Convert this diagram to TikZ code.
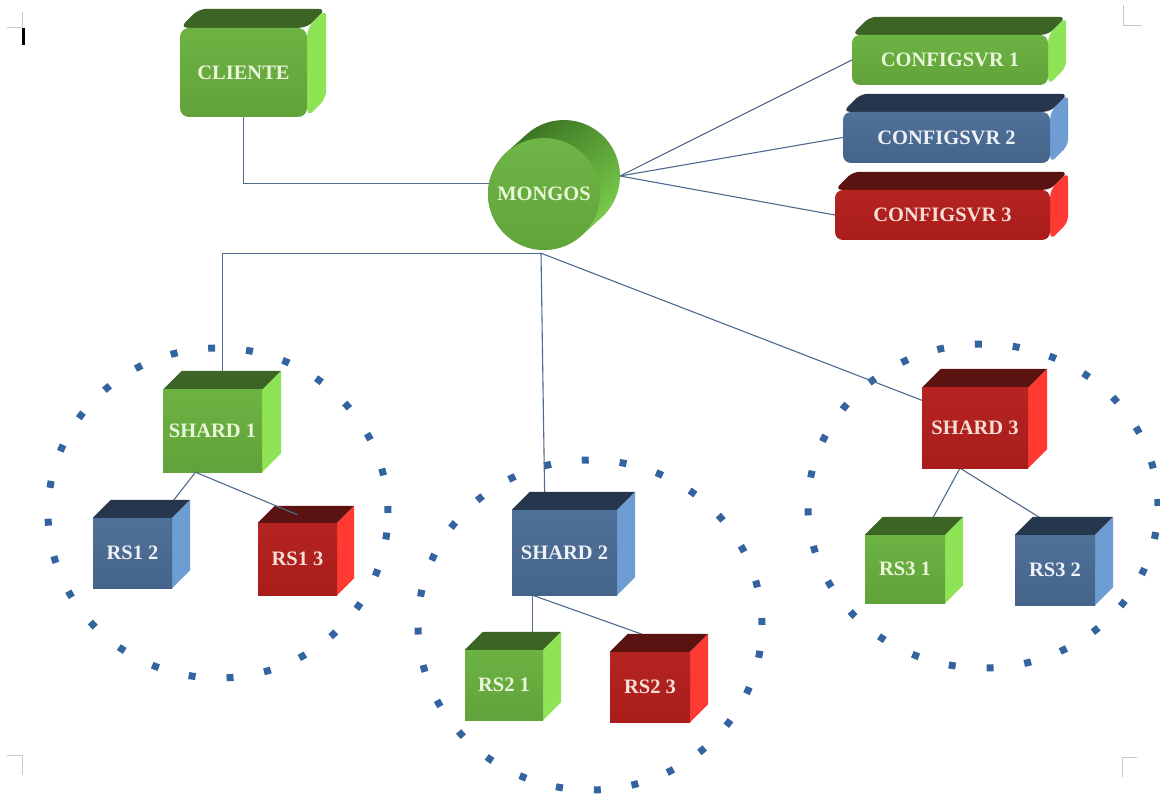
\documentclass[tikz,border=0pt]{standalone}
\usepackage{fontspec}
\setmainfont{Liberation Serif}
\usetikzlibrary{calc}

% palette
\definecolor{grFt}{HTML}{6DB343}\definecolor{grFb}{HTML}{61A23A}
\definecolor{grT}{HTML}{3B6425}\definecolor{grS}{HTML}{8FE455}\definecolor{grTx}{HTML}{E9F6D8}
\definecolor{blFt}{HTML}{4F7099}\definecolor{blFb}{HTML}{45648A}
\definecolor{blT}{HTML}{26374D}\definecolor{blS}{HTML}{6E9DD4}\definecolor{blTx}{HTML}{EEF2F7}
\definecolor{rdFt}{HTML}{B52421}\definecolor{rdFb}{HTML}{A81D1B}
\definecolor{rdT}{HTML}{5B1311}\definecolor{rdS}{HTML}{FF3A33}\definecolor{rdTx}{HTML}{F7DED5}
\definecolor{cyTop}{HTML}{356B1F}\definecolor{cyBot}{HTML}{82D650}
\definecolor{cyFt}{HTML}{6FB546}\definecolor{cyFb}{HTML}{62A43A}
\definecolor{wirec}{HTML}{4E6A8E}\definecolor{dotc}{HTML}{3464A0}\definecolor{cropc}{HTML}{C8C8C8}

\pgfdeclarelayer{paper}
\pgfdeclarelayer{wires}
\pgfdeclarelayer{sides}
\pgfsetlayers{paper,wires,sides,main}

% top and right faces of a box whose front face is node #2, depth #3
\newcommand\cubefaces[5][]{%
  \begin{pgfonlayer}{sides}
    \fill[#4,#1] (#2.north west) -- ++(#3,-#3) -- ([shift={(#3,-#3)}]#2.north east) -- (#2.north east) -- cycle;
    \fill[#5,#1] (#2.north east) -- ++(#3,-#3) -- ([shift={(#3,-#3)}]#2.south east) -- (#2.south east) -- cycle;
  \end{pgfonlayer}}

\begin{document}
\begin{tikzpicture}[x=1pt,y=-1pt,
  front/.style={rectangle, inner sep=0pt, font=\bfseries\fontsize{20.5}{24}\selectfont},
  wh/.style 2 args={minimum width=#1pt, minimum height=#2pt},
  gface/.style={front, top color=grFt, bottom color=grFb, text=grTx},
  bface/.style={front, top color=blFt, bottom color=blFb, text=blTx},
  rface/.style={front, top color=rdFt, bottom color=rdFb, text=rdTx},
  cyl/.style={circle, inner sep=0pt, minimum size=112pt, top color=cyFt, bottom color=cyFb,
              text=grTx, font=\bfseries\fontsize{20.5}{24}\selectfont},
  wire/.style={draw=wirec, line width=1.1pt},
  ring/.style={draw=dotc, line width=7pt, dash pattern=on 7pt off 31pt},
  cropline/.style={draw=cropc, line width=0.9pt}]

\begin{pgfonlayer}{paper}
  \fill[white] (0,0) rectangle (1160,794);
\end{pgfonlayer}
\useasboundingbox (0,0) rectangle (1160,794);

% client and config servers
\node[gface, rounded corners=9pt, wh={127}{89}] (cliente) at (243.5,72.5) {CLIENTE};
\node[gface, rounded corners=8pt, wh={196}{50}] (cfg1) at (950,60) {CONFIGSVR 1};
\node[bface, rounded corners=8pt, wh={207}{51}] (cfg2) at (946.5,137.5) {CONFIGSVR 2};
\node[rface, rounded corners=8pt, wh={215}{50}] (cfg3) at (942.5,215) {CONFIGSVR 3};

% router: front disc plus the body of the cylinder behind it
\node[cyl] (mongos) at (544,194) {MONGOS};
\coordinate (mback) at ($(mongos.center)+(20,-18)$);
\begin{pgfonlayer}{sides}
  \shade[top color=cyTop, bottom color=cyBot, shading angle=40]
    ($(mongos.center)+(-37.5,-41.6)$) -- ($(mback)+(-37.5,-41.6)$)
    arc[start angle=132, end angle=-48, radius=56pt]
    -- ($(mongos.center)+(37.5,41.6)$)
    arc[start angle=-48, end angle=-228, radius=56pt] -- cycle;
\end{pgfonlayer}

% shards and replica set members
\node[gface, wh={99}{82}]  (shard1) at (212.5,431) {SHARD 1};
\node[bface, wh={79}{70}]  (rs12)   at (132.5,553) {RS1 2};
\node[rface, wh={79}{72}]  (rs13)   at (297.5,559) {RS1 3};
\node[bface, wh={105}{85}] (shard2) at (564.5,552.5) {SHARD 2};
\node[gface, wh={78}{70}]  (rs21)   at (504,685) {RS2 1};
\node[rface, wh={80}{70}]  (rs23)   at (650,687) {RS2 3};
\node[rface, wh={106}{80}] (shard3) at (975,428) {SHARD 3};
\node[gface, wh={80}{68}]  (rs31)   at (905,569) {RS3 1};
\node[bface, wh={80}{70}]  (rs32)   at (1055,570) {RS3 2};

\cubefaces[rounded corners=8pt]{cliente}{19}{grT}{grS}
\cubefaces[rounded corners=7pt]{cfg1}{18}{grT}{grS}
\cubefaces[rounded corners=7pt]{cfg2}{18}{blT}{blS}
\cubefaces[rounded corners=7pt]{cfg3}{18}{rdT}{rdS}
\cubefaces{shard1}{19}{grT}{grS}
\cubefaces{rs12}{18}{blT}{blS}
\cubefaces{rs13}{17}{rdT}{rdS}
\cubefaces{shard2}{18}{blT}{blS}
\cubefaces{rs21}{18}{grT}{grS}
\cubefaces{rs23}{18}{rdT}{rdS}
\cubefaces{shard3}{19}{rdT}{rdS}
\cubefaces{rs31}{18}{grT}{grS}
\cubefaces{rs32}{18}{blT}{blS}

% replica set rings and connectors
\begin{pgfonlayer}{wires}
  \draw[ring] (218,513) ellipse [x radius=170pt, y radius=165pt];
  \draw[ring] (590,625) ellipse [x radius=172pt, y radius=165pt];
  \draw[ring] (983,506) ellipse [x radius=175pt, y radius=162pt];

  \coordinate (hub) at ($(mongos.south)+(-3,3)$);
  \coordinate (mright) at ($(mback)+(56,0)$);
  \draw[wire] (cliente.south) |- (mongos.169);
  \draw[wire] (mright) -- (cfg1.west);
  \draw[wire] (mright) -- (cfg2.west);
  \draw[wire] (mright) -- (cfg3.west);
  \draw[wire] (hub) -| ($(shard1.north)+(10,-9)$);
  \draw[wire] (hub) -- ($(shard2.north west)+(33,-5)$);
  \draw[wire] (hub) -- ($(shard3.north west)+(4,14)$);

  \coordinate (s1foot) at ($(shard1.south)+(-17,0)$);
  \draw[wire] (s1foot) -- (rs12.center);
  \coordinate (s2foot) at ($(shard2.south)+(-32,0)$);
  \draw[wire] (s2foot) -- (s2foot |- rs21.north);
  \draw[wire] (s2foot) -- ($(rs23.north)+(2,-14)$);
  \coordinate (s3foot) at ($(shard3.south)+(-15,0)$);
  \draw[wire] (s3foot) -- (rs31.center);
  \draw[wire] (s3foot) -- ($(rs32.north)+(-10,-14)$);
\end{pgfonlayer}
\draw[wire] (s1foot) -- ($(rs13.north)+(0,-8)$);

% page corner marks and text cursor
\draw[cropline] (7,27) -- (22,27) -- (22,12);
\draw[line width=2.4pt] (23.5,28) -- (23.5,45);
\draw[cropline] (1123,5) -- (1123,25) -- (1142,25);
\draw[cropline] (7,755) -- (22,755) -- (22,775);
\draw[cropline] (1137,757) -- (1122,757) -- (1122,777);
\end{tikzpicture}
\end{document}
